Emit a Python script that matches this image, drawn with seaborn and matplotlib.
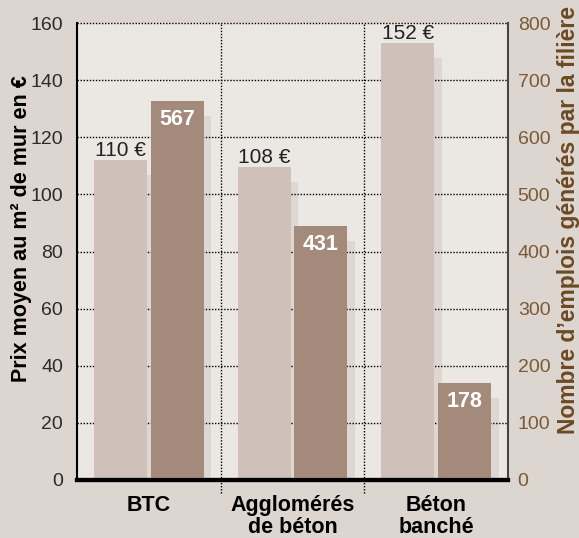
import pandas as pd
import matplotlib.pyplot as plt
import seaborn as sns
from matplotlib.patches import Rectangle
from matplotlib.transforms import offset_copy

# données
filieres = ['BTC', 'Agglomérés de béton', 'Béton banché']
filieres_affichage = ['BTC', 'Agglomérés\nde béton', 'Béton\nbanché']
prix_labels = [110, 108, 152]          # €/m², valeurs affichées
prix_barres = [112, 109.5, 153]        # hauteur des barres telle que dessinée
emplois_labels = [567, 431, 178]       # valeurs affichées
emplois_barres = [664, 445, 170]       # hauteur des barres telle que dessinée
ticks_prix = [0, 20, 40, 60, 80, 100, 120, 140, 160]
ticks_emplois = [0, 100, 200, 300, 400, 500, 600, 700, 800]

FOND = '#ddd5cf'
FOND_AXE = '#ebe7e3'
OMBRE = '#ddd6d1'
COUL_PRIX = '#cfc1b9'
COUL_EMPLOIS = '#a38a7b'
BRUN = '#7a5a36'
BRUN_FONCE = '#6b4a22'

sns.set_style('white')
plt.rcParams['font.family'] = ['Liberation Sans', 'DejaVu Sans']

df_prix = pd.DataFrame({'filiere': filieres, 'valeur': prix_barres, 'serie': 'Prix'})
df_emplois = pd.DataFrame({'filiere': filieres, 'valeur': emplois_barres, 'serie': 'Emplois'})
hue_order = ['Prix', 'Emplois']
palette = {'Prix': COUL_PRIX, 'Emplois': COUL_EMPLOIS}

fig = plt.figure(figsize=(5.79, 5.38), dpi=100, facecolor=FOND)
ax = fig.add_axes([77 / 579, 58 / 538, 431 / 579, 457 / 538])
ax.set_facecolor(FOND_AXE)
ax2 = ax.twinx()

common = dict(x='filiere', y='valeur', hue='serie', hue_order=hue_order, order=filieres,
              palette=palette, width=0.79, gap=0.065, dodge=True, saturation=1,
              errorbar=None, legend=False, linewidth=0, edgecolor='none')
sns.barplot(data=df_prix, ax=ax, zorder=2, **common)
sns.barplot(data=df_emplois, ax=ax2, zorder=2, **common)

ax.set_xlim(-0.5, 2.5)
ax.set_ylim(0, 160)
ax2.set_ylim(0, 800)

barres_prix = sorted(ax.patches, key=lambda p: p.get_x())
barres_emplois = sorted(ax2.patches, key=lambda p: p.get_x())

# ombres portées des barres (décalées à droite et vers le bas)
for axe, barres in ((ax, barres_prix), (ax2, barres_emplois)):
    trans = offset_copy(axe.transData, fig=fig, x=7.5, y=-15, units='dots')
    for p in barres:
        ax.add_patch(Rectangle((p.get_x(), 0), p.get_width(), p.get_height(),
                               transform=trans, facecolor=OMBRE, edgecolor='none', zorder=0.5))

# quadrillage pointillé
for y in ticks_prix[1:]:
    ax.axhline(y, color='black', lw=1, ls=(0, (1, 1.2)), zorder=1, clip_on=False)
for x in [0.5, 1.5]:
    ax.axvline(x, ymin=-0.028, ymax=1, color='black', lw=1, ls=(0, (1, 1.2)), zorder=1, clip_on=False)

# étiquettes de valeurs
for p, v in zip(barres_prix, prix_labels):
    ax.annotate(f'{v} €', (p.get_x() + p.get_width() / 2, p.get_height()),
                xytext=(0, 0), textcoords='offset points', ha='center', va='bottom',
                fontsize=15, color='#222222', zorder=3)
for p, v in zip(barres_emplois, emplois_labels):
    ax2.annotate(str(v), (p.get_x() + p.get_width() / 2, p.get_height()),
                 xytext=(0, -6), textcoords='offset points', ha='center', va='top',
                 fontsize=15.5, fontweight='bold', color='white', zorder=3)

# axes
ax.set_yticks(ticks_prix)
ax.set_xticks(range(len(filieres)), labels=filieres_affichage)
ax.tick_params(axis='y', length=0, pad=10, labelsize=14, labelcolor='#2b2b2b')
ax.tick_params(axis='x', length=0, pad=11, labelsize=15.5, labelcolor='black')
for lab in ax.get_xticklabels():
    lab.set_fontweight('bold')
    lab.set_linespacing(1.05)
ax2.set_yticks(ticks_emplois)
ax2.tick_params(axis='y', length=0, pad=7, labelsize=14, labelcolor=BRUN)

ax.set_xlabel('')
ax2.set_xlabel('')
ax.set_ylabel('Prix moyen au m² de mur en €', fontsize=15.5, fontweight='bold', color='black')
ax2.set_ylabel('Nombre d\u2019emplois générés par la filière', fontsize=16.5, fontweight='bold', color=BRUN_FONCE)
ax.yaxis.set_label_coords(-0.128, 0.55)
ax.yaxis.label.set_va('center')
ax2.yaxis.set_label_coords(1.141, 0.57)
ax2.yaxis.label.set_va('center')

for a in (ax, ax2):
    for s in a.spines.values():
        s.set_visible(False)
ax.spines['left'].set_visible(True)
ax.spines['left'].set_color('black')
ax.spines['left'].set_linewidth(1.5)
for a in (ax, ax2):
    a.spines['bottom'].set_visible(True)
    a.spines['bottom'].set_color('black')
    a.spines['bottom'].set_linewidth(3)
ax2.spines['right'].set_visible(True)
ax2.spines['right'].set_color('#4a4440')
ax2.spines['right'].set_linewidth(1.5)

fig.savefig('out.png', dpi=100, facecolor=FOND)
